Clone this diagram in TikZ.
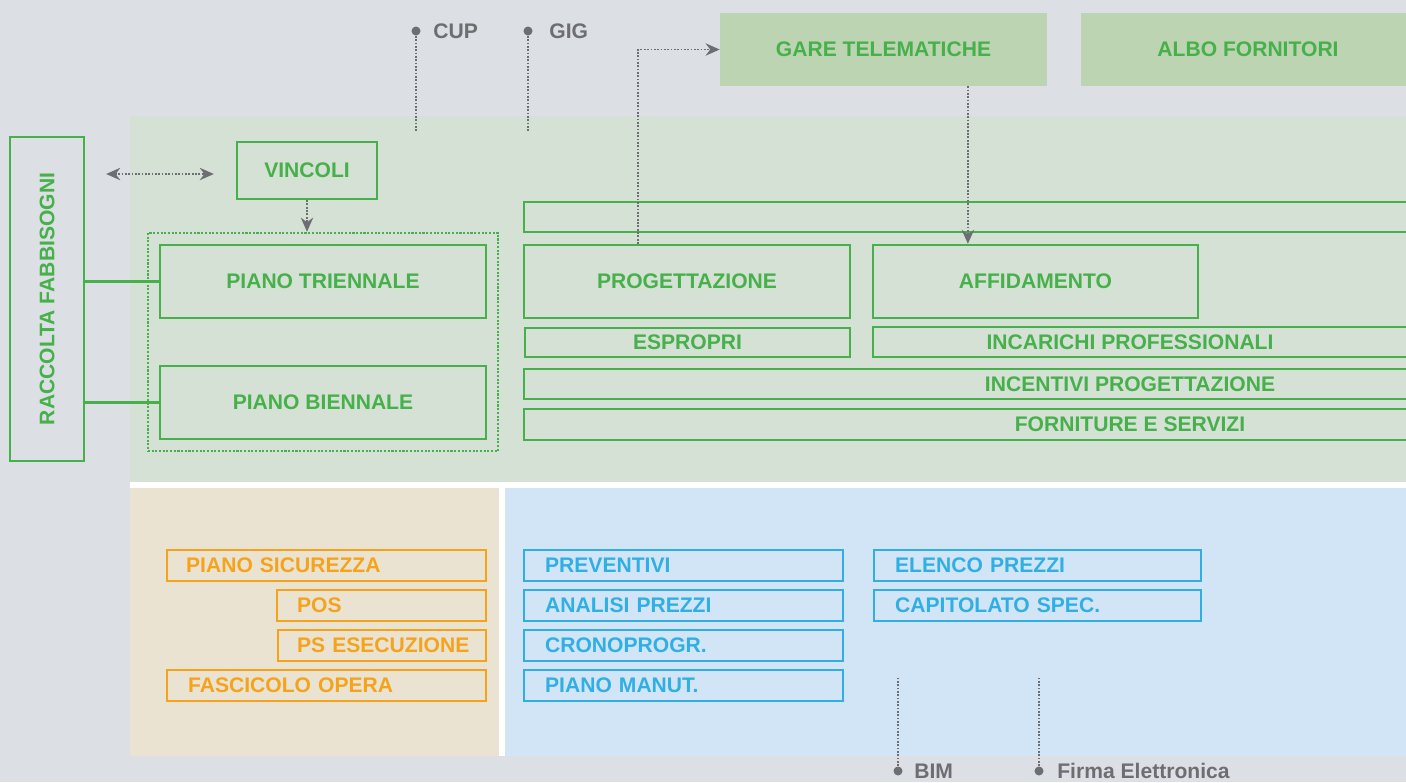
\documentclass[tikz,border=0pt]{standalone}
\usepackage{fontspec}
\setmainfont{Liberation Sans}
\usepackage{tikz}
\usetikzlibrary{calc, positioning, arrows.meta, fit}
\definecolor{bggray}{HTML}{DCDFE3}
\definecolor{pangreen}{HTML}{D5E1D4}
\definecolor{topgreen}{HTML}{BCD4B1}
\definecolor{grn}{HTML}{46B04B}
\definecolor{panorange}{HTML}{EBE3D1}
\definecolor{org}{HTML}{F5A31B}
\definecolor{panblue}{HTML}{D1E5F7}
\definecolor{blu}{HTML}{30AFE5}
\definecolor{gry}{HTML}{6D6E71}
\newcommand{\lbl}{\bfseries\fontsize{12}{14}\selectfont}
\tikzstyle{gbox} = [rectangle, draw=grn, line width=1.3pt, text=grn, font=\lbl, inner sep=0pt]
\tikzstyle{gtop} = [rectangle, fill=topgreen, text=grn, font=\lbl, inner sep=0pt, minimum height=1.46cm]
\tikzstyle{gtext} = [text=grn, font=\lbl, inner sep=0pt]
\tikzstyle{obox} = [rectangle, draw=org, line width=1.3pt, text=org, font=\lbl, minimum height=0.61cm, anchor=north west, align=left, inner ysep=0pt]
\tikzstyle{bbox} = [rectangle, draw=blu, line width=1.3pt, text=blu, font=\lbl, minimum height=0.61cm, anchor=north west, align=left, inner ysep=0pt]
\tikzstyle{pdot} = [circle, fill=gry, inner sep=0pt, minimum size=0.18cm]
\tikzstyle{ptext} = [text=gry, font=\lbl, anchor=west, inner sep=0pt]
\tikzstyle{dline} = [gry, line width=1pt, dash pattern=on 1pt off 0.9pt]
\tikzstyle{arrow} = [dline, -{Stealth[length=8pt, width=7pt]}]
\tikzstyle{darrow} = [dline, {Stealth[length=8pt, width=7pt]}-{Stealth[length=8pt, width=7pt]}]
\tikzstyle{gline} = [grn, line width=1.3pt]
\tikzstyle{gdots} = [draw=grn, line width=1.3pt, dash pattern=on 1.2pt off 0.9pt, inner sep=0.22cm]

\begin{document}
\begin{tikzpicture}[x=0.02cm, y=-0.02cm]
	\useasboundingbox (0,0) rectangle (1406,782);
	% panels
	\fill[bggray] (0,0) rectangle (1406,782);
	\fill[pangreen] (130,116) rectangle (1406,482);
	\fill[white] (130,482) rectangle (1406,488);
	\fill[panorange] (130,488) rectangle (499,756);
	\fill[white] (499,488) rectangle (505,756);
	\fill[panblue] (505,488) rectangle (1406,756);

	% top
	\node[gtop, minimum width=6.54cm] (gare) at (883.5,49.5) {GARE TELEMATICHE};
	\node[gtop, minimum width=6.68cm] (albo) at (1248,49.5) {ALBO FORNITORI};
	\node[pdot] (cupdot) at (416,31) {};
	\node[ptext] (cup) at (433,31) {CUP};
	\coordinate (cupend) at (416,132);
	\node[pdot] (gigdot) at (528,31) {};
	\node[ptext] (gig) at (549,31) {GIG};
	\coordinate (gigend) at (528,132);
	\draw[dline] (cupdot) -- (cupend);
	\draw[dline] (gigdot) -- (gigend);

	% programmazione
	\node[gbox, rotate=90, minimum width=6.48cm, minimum height=1.48cm] (raccolta) at (47,299) {RACCOLTA FABBISOGNI};
	\node[gbox, minimum width=2.8cm, minimum height=1.14cm] (vincoli) at (307,170.5) {VINCOLI};
	\node[gbox, minimum width=6.52cm, minimum height=1.46cm] (triennale) at (323,281.5) {PIANO TRIENNALE};
	\node[gbox, minimum width=6.52cm, minimum height=1.46cm] (biennale) at (323,402.5) {PIANO BIENNALE};
	\node[gdots, fit=(triennale) (biennale)] (pianobox) {};
	\draw[darrow, shorten <=0.42cm, shorten >=0.44cm] ([yshift=-3.5*0.02cm]raccolta.south |- vincoli.west) -- ([yshift=-3.5*0.02cm]vincoli.west);
	\draw[arrow] (vincoli.south) -- (vincoli.south |- pianobox.north);
	\draw[gline] (raccolta.south |- triennale.west) -- (triennale.west);
	\draw[gline] (raccolta.south |- biennale.west) -- (biennale.west);

	% progettazione e affidamento
	\node[gbox, minimum width=17.92cm, minimum height=0.6cm] (topbar) at (972,217) {};
	\node[gbox, minimum width=6.52cm, minimum height=1.46cm] (progettazione) at (687,281.5) {PROGETTAZIONE};
	\node[gbox, minimum width=6.5cm, minimum height=1.46cm] (affidamento) at (1035.5,281.5) {AFFIDAMENTO};
	\node[gbox, minimum width=6.5cm, minimum height=0.58cm] (espropri) at (687.5,342.5) {ESPROPRI};
	\node[gbox, minimum width=10.94cm, minimum height=0.6cm] (incarichi) at (1146.5,342) {};
	\node[gtext] (incarichi-t) at (1130,342) {INCARICHI PROFESSIONALI};
	\node[gbox, minimum width=17.92cm, minimum height=0.6cm] (incentivi) at (972,384) {};
	\node[gtext] (incentivi-t) at (1130,384) {INCENTIVI PROGETTAZIONE};
	\node[gbox, minimum width=17.92cm, minimum height=0.62cm] (forniture) at (972,424.5) {};
	\node[gtext] (forniture-t) at (1130,424.5) {FORNITURE E SERVIZI};
	\coordinate (prog-up) at ($(progettazione.north west)+(115,0)$);
	\coordinate (aff-in) at ($(affidamento.north west)+(96,0)$);
	\draw[arrow] (prog-up) |- (gare.west);
	\draw[arrow] (gare.south -| aff-in) -- (aff-in);

	% sicurezza
	\node[obox, inner xsep=0.38cm, text width=5.62cm] (sicurezza) at (166,549) {PIANO SICUREZZA};
	\node[obox, inner xsep=0.4cm, text width=3.38cm] (pos) at (276,589) {POS};
	\node[obox, inner xsep=0.38cm, text width=3.4cm] (psesec) at (277,629) {\mbox{PS ESECUZIONE}};
	\node[obox, inner xsep=0.42cm, text width=5.54cm] (fascicolo) at (166,669) {FASCICOLO OPERA};

	% elaborati
	\node[bbox, inner xsep=0.42cm, text width=5.54cm] (preventivi) at (523,549) {PREVENTIVI};
	\node[bbox, inner xsep=0.42cm, text width=5.54cm] (analisi) at (523,589) {ANALISI PREZZI};
	\node[bbox, inner xsep=0.42cm, text width=5.54cm] (crono) at (523,629) {CRONOPROGR.};
	\node[bbox, inner xsep=0.42cm, text width=5.54cm] (manut) at (523,669) {PIANO MANUT.};
	\node[bbox, inner xsep=0.42cm, text width=5.7cm] (elenco) at (873,549) {ELENCO PREZZI};
	\node[bbox, inner xsep=0.42cm, text width=5.7cm] (capitolato) at (873,589) {CAPITOLATO SPEC.};

	% bottom
	\node[pdot] (bimdot) at (898,771) {};
	\node[ptext] (bim) at (914,771) {BIM};
	\coordinate (bimend) at (898,677);
	\node[pdot] (firmadot) at (1039,771) {};
	\node[ptext] (firma) at (1057,771) {Firma Elettronica};
	\coordinate (firmaend) at (1039,677);
	\draw[dline] (bimdot) -- (bimend);
	\draw[dline] (firmadot) -- (firmaend);
\end{tikzpicture}
\end{document}
